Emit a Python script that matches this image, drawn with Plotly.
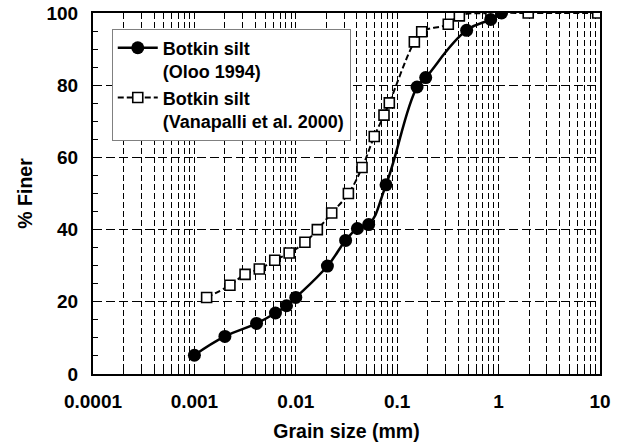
import plotly.graph_objects as go

# Botkin silt (Oloo 1994)
oloo_x = [0.001, 0.002, 0.0041, 0.0063, 0.0081, 0.01, 0.0205, 0.031, 0.0405, 0.0523,
          0.0776, 0.157, 0.191, 0.484, 0.836, 1.07]
oloo_y = [5.2, 10.4, 14.0, 16.9, 18.9, 21.2, 29.9, 37.0, 40.3, 41.4,
          52.4, 79.5, 82.1, 95.2, 98.2, 100.0]

# Botkin silt (Vanapalli et al. 2000)
van_x = [0.00132, 0.00224, 0.00316, 0.00437, 0.0062, 0.0086, 0.0123, 0.0163, 0.0226, 0.033,
         0.045, 0.0594, 0.0741, 0.0836, 0.1476, 0.1745, 0.319, 0.41, 0.84, 1.96, 9.5]
van_y = [21.2, 24.6, 27.6, 29.1, 31.5, 33.5, 36.5, 40.0, 44.6, 50.0,
         57.2, 65.8, 71.7, 75.1, 92.0, 94.8, 96.9, 99.2, 100.0, 100.0, 100.0]

x_major = [0.0001, 0.001, 0.01, 0.1, 1, 10]
x_labels = ["0.0001", "0.001", "0.01", "0.1", "1", "10"]
y_ticks = [0, 20, 40, 60, 80, 100]

FONT = "Liberation Sans, Arial, sans-serif"

# all 1..9 multiples per decade for the grid
grid_vals = []
grid_text = []
for i, d in enumerate(x_major[:-1]):
    for m in range(1, 10):
        grid_vals.append(d * m)
        grid_text.append("<b>%s</b>" % x_labels[i] if m == 1 else "")
grid_vals.append(x_major[-1])
grid_text.append("<b>%s</b>" % x_labels[-1])

fig = go.Figure()
fig.add_trace(go.Scatter(
    x=van_x, y=van_y, mode="lines+markers",
    name="<b>Botkin silt<br>(Vanapalli et al. 2000)</b>", legendrank=2,
    line=dict(color="black", width=2, dash="6px,3px", shape="spline", smoothing=1.3),
    marker=dict(symbol="square", size=10, color="white",
                line=dict(color="black", width=1.6)),
))
fig.add_trace(go.Scatter(
    x=oloo_x, y=oloo_y, mode="lines+markers",
    name="<b>Botkin silt<br>(Oloo 1994)</b>", legendrank=1,
    line=dict(color="black", width=2.5, shape="spline", smoothing=1.3),
    marker=dict(symbol="circle", size=13, color="black"),
))

fig.update_layout(
    width=621, height=446,
    margin=dict(l=93, r=21, t=13, b=72, autoexpand=False),
    paper_bgcolor="white", plot_bgcolor="white",
    font=dict(family=FONT, size=19, color="black"),
    showlegend=True,
    legend=dict(
        x=0.037, y=0.957, xanchor="left", yanchor="top",
        bgcolor="white", bordercolor="#808080", borderwidth=1,
        font=dict(family=FONT, size=18, color="black"),
        valign="top", tracegroupgap=0, itemwidth=40,
    ),
    xaxis=dict(
        type="log", range=[-4, 1], automargin=False,
        tickmode="array", tickvals=grid_vals, ticktext=grid_text,
        ticks="inside", ticklen=5, tickcolor="black", tickwidth=1,
        showgrid=True, gridcolor="black", gridwidth=1, griddash="6px,3px",
        showline=True, linecolor="black", linewidth=2, mirror=True,
        tickfont=dict(family=FONT, size=19),
        ticklabelstandoff=9,
        title=dict(text="<b>Grain size (mm)</b>", font=dict(family=FONT, size=19.5), standoff=14),
        zeroline=False,
    ),
    yaxis=dict(
        range=[0, 100], tickmode="array", tickvals=y_ticks, automargin=False,
        ticktext=["<b>%d</b>" % v for v in y_ticks],
        ticks="inside", ticklen=6, tickcolor="black", tickwidth=1,
        minor=dict(dtick=5, ticks="inside", ticklen=5, tickcolor="black", showgrid=False),
        showgrid=True, gridcolor="black", gridwidth=1, griddash="9px,4px",
        showline=True, linecolor="black", linewidth=2, mirror=True,
        tickfont=dict(family=FONT, size=19),
        ticklabelstandoff=9,
        title=dict(text="<b>% Finer</b>", font=dict(family=FONT, size=19.5), standoff=9),
        zeroline=False,
    ),
)

fig.write_html("out.html")
